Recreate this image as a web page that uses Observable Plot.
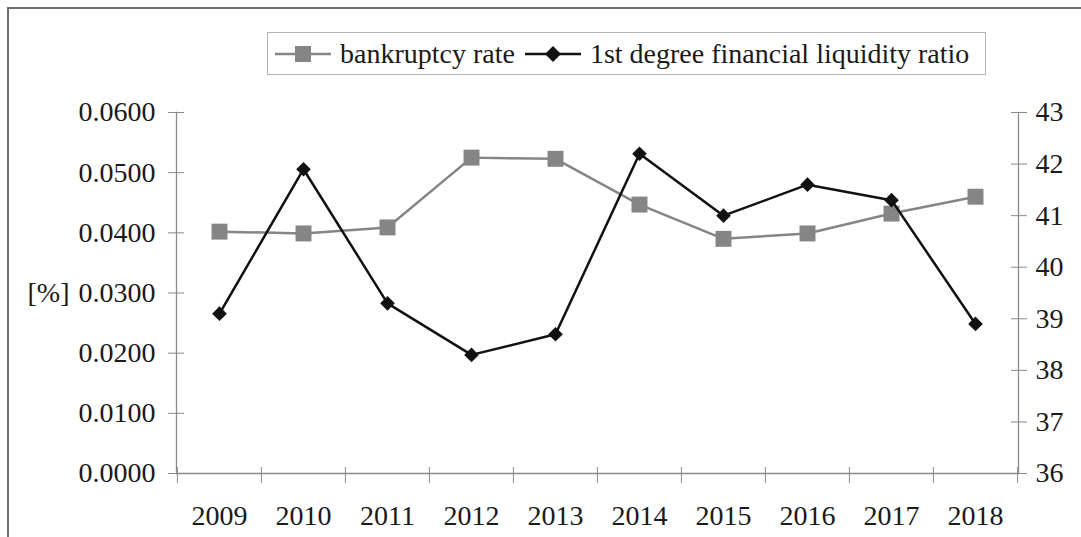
<!DOCTYPE html>
<html><head><meta charset="utf-8">
<script src="https://cdn.jsdelivr.net/npm/d3@7"></script>
<script src="https://cdn.jsdelivr.net/npm/@observablehq/plot@0.6"></script>
<style>
html,body{margin:0;padding:0;background:#fff;overflow:hidden;}
#wrap{position:relative;width:1081px;height:537px;overflow:hidden;font-family:"Liberation Serif","Times New Roman",serif;background:#fff;}
#frame{position:absolute;left:7px;top:7px;width:1100px;height:560px;border:2px solid #6e6e6e;box-sizing:border-box;}
#legend{position:absolute;left:267px;top:32px;width:719px;height:43px;border:1px solid #b4b4b4;box-sizing:border-box;display:flex;align-items:center;font-size:28px;color:#1a1a1a;white-space:nowrap;padding-left:7px;}
#legend svg{display:block;}
.layer{position:absolute;left:0;top:0;}
</style></head>
<body>
<div id="wrap">
  <div id="frame"></div>
  <div id="p1" class="layer"></div>
  <div id="p2" class="layer"></div>
  <div id="legend">
    <svg width="56" height="24"><line x1="0" y1="12" x2="56" y2="12" stroke="#858585" stroke-width="2.5"/><rect x="20" y="4" width="16" height="16" fill="#858585"/></svg>
    <span style="margin-left:9px">bankruptcy rate</span>
    <svg width="56" height="24" style="margin-left:10px"><line x1="0" y1="12" x2="56" y2="12" stroke="#111" stroke-width="2.5"/><path d="M28,4 L36,12 L28,20 L20,12 Z" fill="#111"/></svg>
    <span style="margin-left:9px">1st degree financial liquidity ratio</span>
  </div>
</div>
<script>
const years = ["2009","2010","2011","2012","2013","2014","2015","2016","2017","2018"];
const bankruptcyRate = [0.0402,0.0399,0.0409,0.0525,0.0523,0.0447,0.0390,0.0399,0.0432,0.0460];
const liquidityRatio = [39.1,41.9,39.3,38.3,38.7,42.2,41.0,41.6,41.3,38.9];
const leftTicks = [0,0.01,0.02,0.03,0.04,0.05,0.06];
const rightTicks = [36,37,38,39,40,41,42,43];
const leftUnit = "[%]";

const W = 1081, H = 537, mL = 176, mR = 63, mT = 112, mB = 64;
const step = (W - mL - mR) / years.length;
const data = years.map((y, i) => ({year: y, b: bankruptcyRate[i], l: liquidityRatio[i]}));
const font = '"Liberation Serif","Times New Roman",serif';
const axisGray = "#8a8a8a", txt = "#1a1a1a";

const common = {
  width: W, height: H, marginLeft: mL, marginRight: mR, marginTop: mT, marginBottom: mB,
  style: {fontFamily: font, fontSize: "28px", color: txt, background: "transparent", overflow: "visible"},
  x: {type: "point", domain: years, padding: 0.5, align: 0.5}
};

const p1 = Plot.plot({
  ...common,
  y: {domain: [0, 0.06]},
  marks: [
    Plot.frame({anchor: "left", stroke: axisGray, strokeWidth: 1.3}),
    Plot.ruleY([0], {stroke: axisGray, strokeWidth: 1.3}),
    Plot.axisY(leftTicks, {anchor: "left", tickSize: 16, dx: 8, tickPadding: 13, tickFormat: d3.format(".4f"), stroke: axisGray, fill: txt, label: null}),
    Plot.axisX(years, {anchor: "bottom", tickSize: 16, dy: -6, dx: -step / 2, tickFormat: () => "", stroke: axisGray, label: null}),
    Plot.axisX([years[years.length - 1]], {anchor: "bottom", tickSize: 16, dy: -6, dx: step / 2, tickFormat: () => "", stroke: axisGray, label: null}),
    Plot.axisX(years, {anchor: "bottom", tickSize: 0, tickPadding: 32, fill: txt, label: null}),
    Plot.text([0.03], {y: d => d, frameAnchor: "left", dx: -149, text: () => leftUnit, textAnchor: "start", fill: txt}),
    Plot.line(data, {x: "year", y: "b", stroke: "#858585", strokeWidth: 2.5}),
    Plot.dot(data, {x: "year", y: "b", symbol: "square", r: 9, fill: "#858585", stroke: "none"})
  ]
});
document.getElementById("p1").appendChild(p1);

const p2 = Plot.plot({
  ...common,
  x: {...common.x, axis: null},
  y: {domain: [36, 43]},
  marks: [
    Plot.frame({anchor: "right", stroke: axisGray, strokeWidth: 1.3}),
    Plot.axisY(rightTicks, {anchor: "right", tickSize: 16, dx: -8, tickPadding: 9, tickFormat: d3.format("d"), stroke: axisGray, fill: txt, label: null}),
    Plot.line(data, {x: "year", y: "l", stroke: "#111", strokeWidth: 2.5}),
    Plot.dot(data, {x: "year", y: "l", symbol: "diamond2", r: 6.6, fill: "#111", stroke: "none"})
  ]
});
document.getElementById("p2").appendChild(p2);
</script>
</body></html>
